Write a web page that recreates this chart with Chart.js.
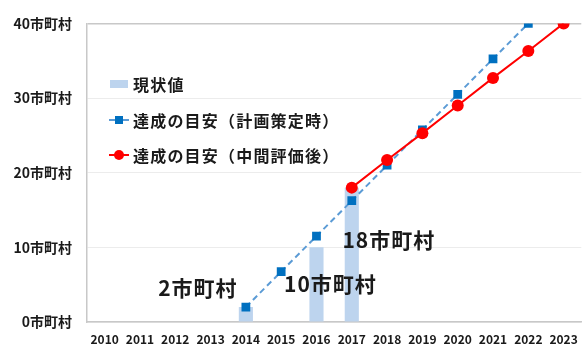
<!DOCTYPE html>
<html>
<head>
<meta charset="utf-8">
<script src="https://cdn.jsdelivr.net/npm/chart.js@4/dist/chart.umd.min.js"></script>
<style>
  html, body { margin: 0; padding: 0; background: #fff; overflow: hidden; }
  #wrap { width: 588px; height: 346px; position: relative; }
</style>
</head>
<body>
<div id="wrap"><canvas id="chart"></canvas></div>
<script>
// chart data
var years = ['2010', '2011', '2012', '2013', '2014', '2015', '2016', '2017', '2018', '2019', '2020', '2021', '2022', '2023'];
var actual = [null, null, null, null, 2, null, 10, 18, null, null, null, null, null, null];
var planTarget = [null, null, null, null, 2, 6.75, 11.5, 16.25, 21, 25.75, 30.5, 35.25, 40, null];
var midTarget = [null, null, null, null, null, null, null, 18, 21.7, 25.3, 29, 32.7, 36.3, 40];
var yTicks = [0, 10, 20, 30, 40];
var unit = '市町村';
var legendNames = ['現状値', '達成の目安（計画策定時）', '達成の目安（中間評価後）'];
// value labels shown near the bars: [year index, text, y value for the label]
var callouts = [[4, '2市町村', 4.6], [6, '10市町村', 5.1], [7, '18市町村', 11]];

var jp = '"Noto Sans CJK JP", "Noto Sans", sans-serif';
var barColor = '#bdd4ee';
var blue = '#0070c0';
var blueLine = '#5b9bd5';
var red = '#ff0000';

// legend drawn inside the plot area, top-left
var innerLegend = {
  id: 'innerLegend',
  afterDatasetsDraw: function(chart) {
    var ctx = chart.ctx;
    var x0 = 109, rows = [84, 120, 155];
    ctx.save();
    ctx.textBaseline = 'middle';

    ctx.fillStyle = barColor;
    ctx.fillRect(x0 + 1, rows[0] - 4, 18, 8);

    ctx.strokeStyle = blueLine;
    ctx.lineWidth = 2;
    ctx.beginPath(); ctx.moveTo(x0, rows[1]); ctx.lineTo(x0 + 20, rows[1]); ctx.stroke();
    ctx.fillStyle = blue;
    ctx.fillRect(x0 + 6, rows[1] - 4, 8, 8);

    ctx.strokeStyle = red;
    ctx.beginPath(); ctx.moveTo(x0, rows[2]); ctx.lineTo(x0 + 20, rows[2]); ctx.stroke();
    ctx.fillStyle = red;
    ctx.beginPath(); ctx.arc(x0 + 10, rows[2], 5, 0, Math.PI * 2); ctx.fill();

    ctx.font = 'bold 16px ' + jp;
    ctx.letterSpacing = '1.2px';
    ctx.fillStyle = '#1a1a1a';
    for (var i = 0; i < legendNames.length; i++) {
      ctx.fillText(legendNames[i], x0 + 24, rows[i] + 1);
    }
    ctx.restore();
  }
};

// "n市町村" callouts near the bars
var calloutLabels = {
  id: 'calloutLabels',
  afterDatasetsDraw: function(chart) {
    var ctx = chart.ctx;
    var xs = chart.scales.x, ys = chart.scales.y;
    var dx = [-48, 14, 37];
    ctx.save();
    ctx.font = 'bold 21px ' + jp;
    ctx.letterSpacing = '1px';
    ctx.textAlign = 'center';
    ctx.textBaseline = 'middle';
    ctx.fillStyle = '#1a1a1a';
    callouts.forEach(function(c, i) {
      var px = xs.getPixelForValue(c[0]) + dx[i];
      var py = ys.getPixelForValue(c[2]);
      ctx.fillText(c[1], px, py);
    });
    ctx.restore();
  }
};

new Chart(document.getElementById('chart'), {
  type: 'bar',
  data: {
    labels: years,
    datasets: [
      {
        type: 'line',
        label: legendNames[2],
        data: midTarget,
        borderColor: red,
        backgroundColor: red,
        borderWidth: 2,
        pointStyle: 'circle',
        pointRadius: 6,
        pointBorderWidth: 0,
        order: 0
      },
      {
        type: 'line',
        label: legendNames[1],
        data: planTarget,
        borderColor: blueLine,
        backgroundColor: blue,
        borderWidth: 2,
        borderDash: [6, 4],
        pointStyle: 'rect',
        pointRadius: 6.2,
        pointBorderWidth: 0,
        order: 1
      },
      {
        type: 'bar',
        label: legendNames[0],
        data: actual,
        backgroundColor: barColor,
        categoryPercentage: 0.8,
        barPercentage: 0.5,
        order: 2
      }
    ]
  },
  options: {
    responsive: true,
    maintainAspectRatio: false,
    animation: false,
    layout: { padding: { top: 19, right: 0, bottom: 0, left: 0 } },
    plugins: {
      legend: { display: false },
      tooltip: { enabled: false }
    },
    scales: {
      x: {
        offset: true,
        grid: { display: false, drawTicks: false },
        border: { display: true, color: '#c8c8c8', width: 1.5 },
        ticks: {
          padding: 10,
          maxRotation: 0,
          autoSkip: false,
          color: '#1a1a1a',
          font: { family: jp, size: 12, weight: 'bold' }
        },
        afterFit: function(scale) { scale.height = 24; }
      },
      y: {
        min: 0,
        max: 40,
        afterBuildTicks: function(scale) {
          scale.ticks = yTicks.map(function(v) { return { value: v }; });
        },
        grid: {
          drawTicks: false,
          color: function(c) { return c.tick && c.tick.value === 40 ? '#c8c8c8' : '#ececec'; },
          lineWidth: function(c) { return c.tick && c.tick.value === 40 ? 1.5 : 1; }
        },
        border: { display: true, color: '#c8c8c8', width: 1.5 },
        ticks: {
          padding: 15,
          color: '#1a1a1a',
          font: { family: jp, size: 14, weight: 'bold' },
          callback: function(v) { return v + unit; }
        },
        afterFit: function(scale) { scale.width = 87; }
      }
    }
  },
  plugins: [innerLegend, calloutLabels]
});
</script>
</body>
</html>
